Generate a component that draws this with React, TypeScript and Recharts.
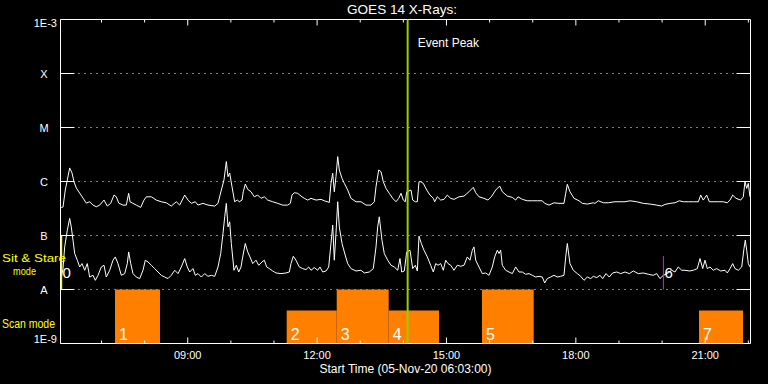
import React from 'react';
import {
  ComposedChart,
  Line,
  XAxis,
  YAxis,
  CartesianGrid,
  ReferenceArea,
  ReferenceLine,
  ReferenceDot,
} from 'recharts';

// hours of the day (decimal) and log10 of flux (W/m^2)
const longTime = [
  6.069, 6.108, 6.161, 6.208, 6.263, 6.317, 6.363, 6.416, 6.495, 6.572, 6.648, 6.727, 6.804, 6.88, 6.959,
  7.059, 7.135, 7.214, 7.291, 7.344, 7.4, 7.499, 7.576, 7.631, 7.662, 7.731, 7.808, 7.91, 7.986, 8.04,
  8.156, 8.271, 8.387, 8.503, 8.619, 8.735, 8.814, 8.93, 9.007, 9.083, 9.176, 9.238, 9.354, 9.47, 9.626,
  9.702, 9.779, 9.841, 9.895, 9.934, 9.973, 10.027, 10.089, 10.15, 10.196, 10.259, 10.289, 10.335, 10.391,
  10.467, 10.544, 10.623, 10.699, 10.776, 10.855, 10.971, 11.087, 11.202, 11.318, 11.379, 11.418, 11.471,
  11.55, 11.627, 11.703, 11.782, 11.859, 11.975, 12.091, 12.167, 12.283, 12.322, 12.362, 12.399, 12.438,
  12.478, 12.515, 12.578, 12.631, 12.71, 12.786, 12.902, 13.018, 13.134, 13.25, 13.327, 13.366, 13.428,
  13.482, 13.535, 13.598, 13.674, 13.753, 13.83, 13.892, 13.946, 13.999, 14.045, 14.078, 14.178, 14.217,
  14.277, 14.324, 14.363, 14.402, 14.463, 14.542, 14.618, 14.695, 14.727, 14.787, 14.866, 14.943, 15.019,
  15.098, 15.175, 15.291, 15.407, 15.522, 15.622, 15.678, 15.754, 15.87, 15.963, 16.04, 16.142, 16.234,
  16.295, 16.411, 16.527, 16.605, 16.659, 16.758, 16.874, 16.99, 17.106, 17.222, 17.278, 17.378, 17.493,
  17.609, 17.725, 17.765, 17.802, 17.864, 17.957, 18.073, 18.15, 18.266, 18.405, 18.444, 18.521, 18.637,
  18.753, 18.908, 19.024, 19.14, 19.256, 19.411, 19.564, 19.72, 19.875, 19.991, 20.067, 20.183, 20.299,
  20.399, 20.492, 20.608, 20.724, 20.84, 20.895, 20.955, 21.034, 21.095, 21.204, 21.303, 21.419, 21.512,
  21.575, 21.637, 21.714, 21.823, 21.883, 21.922, 21.962, 21.999, 22.038,
];
const longFlux = [
  -6.48, -6.474, -6.158, -5.972, -5.749, -5.842, -6.004, -6.121, -6.214, -6.307, -6.4, -6.375, -6.437, -6.468, -6.437,
  -6.344, -6.455, -6.405, -6.251, -6.283, -6.4, -6.437, -6.437, -6.219, -6.375, -6.405, -6.437, -6.48, -6.344, -6.283,
  -6.283, -6.344, -6.375, -6.394, -6.455, -6.375, -6.437, -6.251, -6.344, -6.405, -6.375, -6.437, -6.405, -6.437, -6.455,
  -6.405, -6.158, -5.972, -5.632, -5.911, -5.842, -6.097, -6.375, -6.344, -6.375, -6.344, -6.19, -6.047, -6.145,
  -6.19, -6.283, -6.251, -6.312, -6.283, -6.344, -6.375, -6.405, -6.437, -6.437, -6.405, -6.251, -6.208,
  -6.219, -6.27, -6.312, -6.344, -6.312, -6.344, -6.331, -6.357, -6.387, -6.034, -5.848, -6.19, -5.911,
  -5.539, -5.787, -5.941, -6.034, -6.158, -6.312, -6.375, -6.375, -6.437, -6.437, -6.375, -6.097, -5.787,
  -5.818, -6.004, -6.127, -6.219, -6.312, -6.375, -6.312, -6.219, -6.344, -6.375, -6.19, -6.158, -6.344,
  -6.375, -6.375, -6.004, -6.004, -6.034, -6.158, -6.251, -6.312, -6.375, -6.283, -6.344, -6.331, -6.251,
  -6.312, -6.331, -6.283, -6.27, -6.19, -6.108, -6.208, -6.283, -6.312, -6.344, -6.283, -6.158, -6.084,
  -6.19, -6.27, -6.294, -6.344, -6.283, -6.331, -6.357, -6.357, -6.357, -6.357, -6.405, -6.437, -6.394,
  -6.405, -6.405, -6.219, -6.052, -6.19, -6.312, -6.357, -6.405, -6.418, -6.394, -6.405, -6.357, -6.394,
  -6.394, -6.375, -6.375, -6.375, -6.357, -6.375, -6.405, -6.418, -6.437, -6.455, -6.424, -6.405, -6.394,
  -6.357, -6.375, -6.375, -6.375, -6.375, -6.251, -6.344, -6.251, -6.375, -6.375, -6.375, -6.375, -6.394,
  -6.344, -6.251, -6.312, -6.344, -6.283, -6.004, -6.127, -6.034, -6.283,
];

const shortTime = [
  6.069, 6.108, 6.147, 6.208, 6.263, 6.3, 6.34, 6.379, 6.44, 6.495, 6.549, 6.611, 6.671, 6.727, 6.804,
  6.857, 6.92, 6.996, 7.059, 7.112, 7.191, 7.267, 7.321, 7.383, 7.46, 7.539, 7.599, 7.631, 7.678, 7.731,
  7.808, 7.887, 7.963, 8.016, 8.079, 8.156, 8.234, 8.311, 8.387, 8.466, 8.543, 8.619, 8.698, 8.775, 8.851,
  8.93, 8.99, 9.046, 9.122, 9.176, 9.238, 9.315, 9.394, 9.47, 9.547, 9.626, 9.702, 9.765, 9.818, 9.858,
  9.895, 9.934, 9.973, 10.011, 10.073, 10.127, 10.182, 10.236, 10.275, 10.335, 10.391, 10.444, 10.507,
  10.583, 10.646, 10.722, 10.776, 10.831, 10.892, 10.971, 11.047, 11.163, 11.279, 11.356, 11.395, 11.448,
  11.511, 11.587, 11.666, 11.743, 11.805, 11.859, 11.935, 12.014, 12.067, 12.13, 12.207, 12.269, 12.322,
  12.362, 12.399, 12.438, 12.478, 12.515, 12.578, 12.631, 12.71, 12.786, 12.902, 13.018, 13.095, 13.211,
  13.303, 13.366, 13.405, 13.442, 13.505, 13.558, 13.637, 13.714, 13.79, 13.869, 13.922, 13.962, 14.022,
  14.078, 14.154, 14.217, 14.277, 14.324, 14.363, 14.417, 14.479, 14.556, 14.634, 14.695, 14.75, 14.804,
  14.866, 14.927, 14.982, 15.036, 15.098, 15.175, 15.251, 15.33, 15.407, 15.483, 15.546, 15.599, 15.638,
  15.678, 15.754, 15.831, 15.91, 15.986, 16.063, 16.118, 16.179, 16.218, 16.257, 16.295, 16.373, 16.45,
  16.527, 16.605, 16.682, 16.758, 16.837, 16.914, 16.99, 17.069, 17.146, 17.222, 17.278, 17.338, 17.417,
  17.493, 17.57, 17.649, 17.725, 17.765, 17.802, 17.864, 17.941, 18.034, 18.113, 18.189, 18.266, 18.344,
  18.405, 18.484, 18.56, 18.623, 18.699, 18.776, 18.854, 18.947, 19.04, 19.14, 19.24, 19.332, 19.448,
  19.564, 19.68, 19.796, 19.875, 19.951, 20.028, 20.121, 20.223, 20.299, 20.376, 20.455, 20.531, 20.631,
  20.724, 20.816, 20.879, 20.942, 20.995, 21.048, 21.111, 21.187, 21.266, 21.359, 21.459, 21.512, 21.575,
  21.637, 21.691, 21.767, 21.846, 21.899, 21.929, 21.962, 21.999, 22.038,
];
const shortFlux = [
  -7.769, -7.613, -7.211, -6.901, -6.684, -6.84, -7.087, -7.334, -7.458, -7.583, -7.52, -7.644, -7.52, -7.769, -7.737,
  -7.83, -7.737, -7.583, -7.551, -7.769, -7.644, -7.458, -7.397, -7.52, -7.737, -7.706, -7.52, -7.304, -7.52, -7.706,
  -7.769, -7.798, -7.644, -7.458, -7.49, -7.551, -7.613, -7.676, -7.737, -7.769, -7.798, -7.737, -7.644, -7.706, -7.583,
  -7.427, -7.583, -7.676, -7.613, -7.737, -7.706, -7.769, -7.706, -7.756, -7.737, -7.756, -7.583, -7.334, -6.962, -6.654,
  -6.405, -6.84, -6.747, -7.148, -7.644, -7.551, -7.676, -7.583, -7.397, -7.148, -7.304, -7.397, -7.52,
  -7.458, -7.551, -7.49, -7.458, -7.583, -7.613, -7.657, -7.694, -7.706, -7.694, -7.676, -7.52, -7.384,
  -7.458, -7.583, -7.613, -7.631, -7.583, -7.644, -7.594, -7.644, -7.583, -7.676, -7.657, -7.583, -7.148,
  -6.808, -7.458, -6.962, -6.375, -6.84, -7.148, -7.304, -7.52, -7.613, -7.657, -7.644, -7.694, -7.676,
  -7.613, -7.211, -6.84, -6.654, -7.087, -7.334, -7.458, -7.551, -7.583, -7.644, -7.427, -7.676, -7.657,
  -7.304, -7.273, -7.613, -7.551, -7.657, -7.013, -7.148, -7.273, -7.397, -7.551, -7.676, -7.52, -7.551,
  -7.52, -7.644, -7.458, -7.52, -7.551, -7.644, -7.551, -7.57, -7.551, -7.397, -7.458, -7.273, -7.211,
  -7.458, -7.583, -7.706, -7.694, -7.737, -7.583, -7.397, -7.273, -7.334, -7.273, -7.551, -7.644, -7.676,
  -7.706, -7.583, -7.676, -7.676, -7.718, -7.706, -7.737, -7.769, -7.756, -7.769, -7.88, -7.798, -7.769,
  -7.737, -7.769, -7.756, -7.737, -7.397, -7.148, -7.52, -7.644, -7.706, -7.756, -7.83, -7.769, -7.798,
  -7.756, -7.78, -7.737, -7.798, -7.706, -7.769, -7.694, -7.676, -7.706, -7.676, -7.706, -7.657, -7.706,
  -7.694, -7.718, -7.737, -7.706, -7.798, -7.737, -7.706, -7.644, -7.676, -7.583, -7.644, -7.644, -7.657,
  -7.644, -7.613, -7.427, -7.613, -7.458, -7.613, -7.583, -7.644, -7.613, -7.657, -7.644, -7.694, -7.613,
  -7.52, -7.613, -7.644, -7.583, -7.241, -7.087, -7.273, -7.52, -7.583,
];

// scan mode blocks
const scanStart = [7.314, 11.295, 12.455, 13.66, 15.824, 20.856];
const scanEnd = [8.357, 12.455, 13.66, 14.827, 17.023, 21.876];
const scanTop = [-8, -8.39, -8, -8.39, -8, -8.39];
const scanLabels = ['1', '2', '3', '4', '5', '7'];

// sit & stare markers
const stareTime = [6.073, 20.03];
const stareTop = [-7, -7.38];
const stareColors = ['#ffff00', '#ff00ff'];
const stareLabels = ['0', '6'];

const eventPeak = 14.1;

const hourTicks = [7, 8, 9, 10, 11, 12, 13, 14, 15, 16, 17, 18, 19, 20, 21, 22];
const levelTicks = [-9, -8, -7, -6, -5, -4, -3];
const levelLabels = ['1E-9', 'A', 'B', 'C', 'M', 'X', '1E-3'];

const FONT = '"Liberation Sans", Arial, sans-serif';
const PLOT_LEFT = 60.5;
const PLOT_RIGHT = 750.5;
const PLOT_TOP = 19.5;
const PLOT_BOTTOM = 343.5;

const longData = longTime.map((t, i) => ({ t, v: longFlux[i] }));
const shortData = shortTime.map((t, i) => ({ t, v: shortFlux[i] }));

const XTick = (props: any) => {
  const { x, payload } = props;
  const h = payload.value;
  const major = h % 3 === 0;
  const len = major ? 6 : 3;
  return (
    <g>
      <line x1={x} x2={x} y1={PLOT_BOTTOM} y2={PLOT_BOTTOM - len} stroke="#fff" />
      <line x1={x} x2={x} y1={PLOT_TOP} y2={PLOT_TOP + len} stroke="#fff" />
      {major && (
        <text x={x} y={359} textAnchor="middle" fill="#fff" fontSize={11} fontFamily={FONT}>
          {`${String(h).padStart(2, '0')}:00`}
        </text>
      )}
    </g>
  );
};

const YTick = (props: any) => {
  const { y, payload } = props;
  const i = levelTicks.indexOf(payload.value);
  const edge = i === 0 || i === levelTicks.length - 1;
  const tx = edge ? 57 : 44;
  const ty = edge ? (i === 0 ? y - 0.5 : y + 7.5) : y + 4;
  return (
    <g>
      {!edge && <line x1={PLOT_LEFT} x2={PLOT_LEFT + 14} y1={y} y2={y} stroke="#fff" />}
      {!edge && <line x1={PLOT_RIGHT - 14} x2={PLOT_RIGHT} y1={y} y2={y} stroke="#fff" />}
      <text x={tx} y={ty} textAnchor={edge ? 'end' : 'middle'} fill="#fff" fontSize={11} fontFamily={FONT}>
        {levelLabels[i]}
      </text>
    </g>
  );
};

const PeakLabel = (props: any) => {
  const { viewBox } = props;
  return (
    <text x={viewBox.x + 10} y={viewBox.y + 27} fill="#fff" fontSize={12} fontFamily={FONT}>
      Event Peak
    </text>
  );
};

export default function App() {
  return (
    <div style={{ position: 'fixed', left: 0, top: 0, width: 768, height: 384, background: '#000' }}>
      <ComposedChart
        width={768}
        height={384}
        margin={{ top: PLOT_TOP, right: 768 - PLOT_RIGHT, bottom: 0, left: 0.5 }}
      >
        <CartesianGrid horizontal vertical={false} stroke="#fff" strokeDasharray="1 5" />
        <XAxis
          dataKey="t"
          type="number"
          domain={[6.05, 22.05]}
          ticks={hourTicks}
          allowDataOverflow
          height={384 - PLOT_BOTTOM}
          axisLine={false}
          tickLine={false}
          tick={<XTick />}
          label={{
            value: 'Start Time (05-Nov-20 06:03:00)',
            position: 'insideBottom',
            offset: 11,
            fill: '#fff',
            fontSize: 12,
            fontFamily: FONT,
          }}
        />
        <YAxis
          type="number"
          domain={[-9, -3]}
          ticks={levelTicks}
          width={60}
          axisLine={false}
          tickLine={false}
          tick={<YTick />}
        />
        {scanStart.map((s, i) => (
          <ReferenceArea
            key={'scan' + i}
            x1={s}
            x2={scanEnd[i]}
            y1={-9}
            y2={scanTop[i]}
            fill="#ff8000"
            fillOpacity={1}
            stroke="none"
            label={{ value: scanLabels[i], position: 'insideBottomLeft', offset: 4, fill: '#fff', fontSize: 16, fontFamily: FONT }}
          />
        ))}
        <Line data={longData} dataKey="v" type="linear" stroke="#fff" strokeWidth={1} dot={false} isAnimationActive={false} />
        <Line data={shortData} dataKey="v" type="linear" stroke="#fff" strokeWidth={1} dot={false} isAnimationActive={false} />
        <ReferenceArea x1={6.05} x2={22.05} y1={-9} y2={-3} fill="none" fillOpacity={0} stroke="#fff" strokeWidth={1} />
        {stareTime.map((t, i) => (
          <ReferenceLine
            key={'stare' + i}
            segment={[{ x: t, y: -8 }, { x: t, y: stareTop[i] }]}
            stroke={stareColors[i]}
            strokeWidth={i === 0 ? 1.5 : 1}
          />
        ))}
        {stareTime.map((t, i) => (
          <ReferenceDot
            key={'stareLbl' + i}
            x={t}
            y={-7.68}
            r={1}
            fillOpacity={0}
            stroke="none"
            label={{ value: stareLabels[i], position: 'right', offset: 0, fill: '#fff', fontSize: 15, fontFamily: FONT }}
          />
        ))}
        <ReferenceLine x={eventPeak} stroke="#9acd00" strokeWidth={2} label={<PeakLabel />} />
      </ComposedChart>
      <svg width={768} height={384} style={{ position: 'absolute', left: 0, top: 0, pointerEvents: 'none' }}>
        <text x={402} y={14} textAnchor="middle" fill="#fff" fontSize={13} fontFamily={FONT} textLength={110} lengthAdjust="spacingAndGlyphs">
          GOES 14 X-Rays:
        </text>
        <text x={2} y={262} fill="#ffff00" fontSize={11} fontFamily={FONT} textLength={64} lengthAdjust="spacingAndGlyphs">
          Sit &amp; Stare
        </text>
        <text x={13} y={275} fill="#ffff00" fontSize={11} fontFamily={FONT} textLength={23} lengthAdjust="spacingAndGlyphs">
          mode
        </text>
        <text x={2} y={328} fill="#ffff00" fontSize={12} fontFamily={FONT} textLength={53} lengthAdjust="spacingAndGlyphs">
          Scan mode
        </text>
      </svg>
    </div>
  );
}
